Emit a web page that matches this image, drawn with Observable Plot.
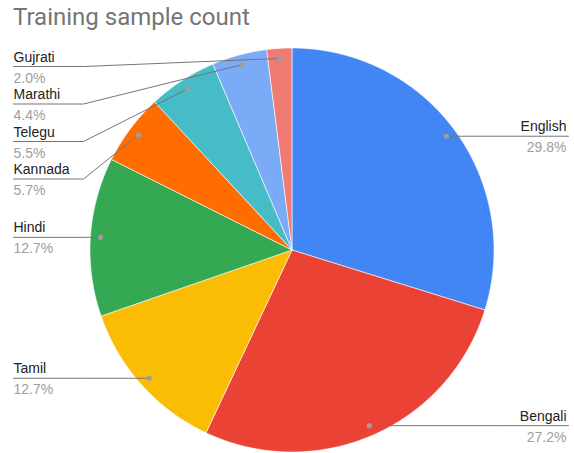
<!DOCTYPE html>
<html><head><meta charset="utf-8">
<script src="https://cdn.jsdelivr.net/npm/d3@7"></script>
<script src="https://cdn.jsdelivr.net/npm/@observablehq/plot@0.6"></script>
<style>
body{margin:0;background:#fff;}
#wrap{width:574px;height:453px;overflow:hidden;background:#fff}
#title{height:36px;line-height:34px;font-family:Roboto,"Liberation Sans",Arial,sans-serif;font-size:24px;color:#757575;padding-left:13px;white-space:nowrap}
svg{display:block}
</style></head>
<body>
<div id="wrap"><div id="title">Training sample count</div><div id="chart"></div></div>
<script>
// Data (clockwise from 12 o'clock)
const languages = ["English","Bengali","Tamil","Hindi","Kannada","Telegu","Marathi","Gujrati"];
const shares = [29.8, 27.2, 12.7, 12.7, 5.7, 5.5, 4.4, 2.0];
const colors = ["#4285F4","#EA4335","#FBBC04","#34A853","#FF6D01","#46BDC6","#7BAAF7","#F07B72"];

// Layout (pixel-unit data space centred on the pie)
const W = 574, H = 417;
const cx = 291.5, cy = 213.5, R = 202;
const dotR = R * 0.95;
const leftX = 13 - cx, rightX = 566 - cx, lineEndR = 568 - cx;
const bend = 70, gap = 37.5, minY = 66 - 36 - cy;

const total = d3.sum(shares);
let cum = 0;
const slices = languages.map((name, i) => {
  const a0 = cum / total * 2 * Math.PI; cum += shares[i];
  const a1 = cum / total * 2 * Math.PI;
  return {name, share: shares[i], a0, a1, mid: (a0 + a1) / 2};
});
const pt = (a, r) => [r * Math.sin(a), -r * Math.cos(a)];

const poly = [];
for (const s of slices) {
  poly.push({name: s.name, x: 0, y: 0});
  const n = Math.max(2, Math.ceil((s.a1 - s.a0) / 0.005));
  for (let k = 0; k <= n; k++) {
    const [x, y] = pt(s.a0 + (s.a1 - s.a0) * k / n, R);
    poly.push({name: s.name, x, y});
  }
  poly.push({name: s.name, x: 0, y: 0});
}

const dots = slices.map(s => {
  const [x, y] = pt(s.mid, dotR);
  return {name: s.name, share: s.share, x, y, side: s.mid < Math.PI ? "right" : "left"};
});
// resolve label positions per side
for (const side of ["left", "right"]) {
  const arr = dots.filter(d => d.side === side).sort((a, b) => a.y - b.y);
  let prev = -Infinity;
  for (const d of arr) {
    d.ly = Math.max(d.y, prev + gap, minY);
    prev = d.ly;
  }
}
const leaders = [];
for (const d of dots) {
  const x0 = d.side === "left" ? leftX : lineEndR;
  const xb = d.side === "left" ? leftX + bend : lineEndR - bend;
  leaders.push({name: d.name, x: x0, y: d.ly});
  if ((d.side === "left" && d.x > xb) || (d.side === "right" && d.x < xb)) leaders.push({name: d.name, x: xb, y: d.ly});
  leaders.push({name: d.name, x: d.x, y: d.y});
}
const leftLabels = dots.filter(d => d.side === "left").map(d => ({...d, tx: leftX}));
const rightLabels = dots.filter(d => d.side === "right").map(d => ({...d, tx: rightX}));
const pct = d => d.share.toFixed(1) + "%";

const chart = Plot.plot({
  width: W, height: H,
  margin: 0,
  x: {domain: [-cx, W - cx], range: [0, W], axis: null},
  y: {domain: [-cy, H - cy], range: [0, H], axis: null},
  color: {domain: languages, range: colors, legend: false},
  style: {fontFamily: "'Liberation Sans', Arial, sans-serif", background: "#fff"},
  marks: [
    Plot.line(poly, {x: "x", y: "y", z: "name", fill: "name", stroke: "#ffffff", strokeWidth: 0.6, curve: "linear"}),
    Plot.line(leaders, {x: "x", y: "y", z: "name", stroke: "#757575", strokeWidth: 1, curve: "linear"}),
    Plot.dot(dots, {x: "x", y: "y", r: 2.6, fill: "#9e9e9e", stroke: "none"}),
    Plot.text(leftLabels, {x: "tx", y: "ly", text: "name", textAnchor: "start", lineAnchor: "bottom", dy: -5, fontSize: 14, fill: "#222222"}),
    Plot.text(rightLabels, {x: "tx", y: "ly", text: "name", textAnchor: "end", lineAnchor: "bottom", dy: -5, fontSize: 14, fill: "#222222"}),
    Plot.text(leftLabels, {x: "tx", y: "ly", text: pct, textAnchor: "start", lineAnchor: "bottom", dy: 16, fontSize: 14, fill: "#9e9e9e"}),
    Plot.text(rightLabels, {x: "tx", y: "ly", text: pct, textAnchor: "end", lineAnchor: "bottom", dy: 16, fontSize: 14, fill: "#9e9e9e"})
  ]
});
document.getElementById("chart").appendChild(chart);
</script>
</body></html>
